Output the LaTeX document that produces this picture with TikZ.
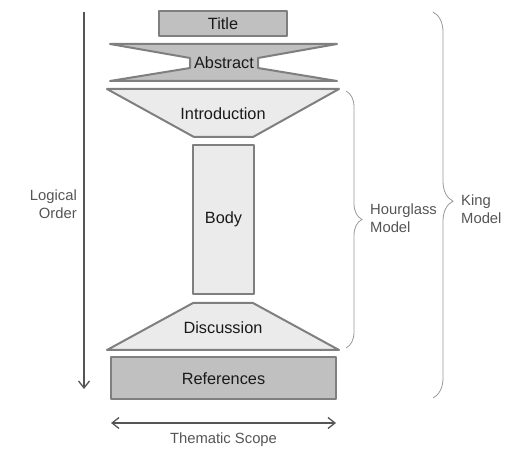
\documentclass[tikz,border=0pt]{standalone}
\usepackage{fontspec}
\setmainfont{Liberation Sans}
\usetikzlibrary{decorations.pathreplacing,arrows.meta}
\definecolor{edgegray}{HTML}{7F7F7F}
\definecolor{darkfill}{HTML}{C0C0C0}
\definecolor{lightfill}{HTML}{EBEBEB}
\definecolor{labelgray}{HTML}{555555}
\definecolor{textdark}{HTML}{1A1A1A}
\begin{document}
\begin{tikzpicture}[x=1pt,y=-1pt,
  part/.style={draw=edgegray,line width=2pt,line join=round},
  darkpart/.style={part,fill=darkfill},
  lightpart/.style={part,fill=lightfill},
  boxtext/.style={font=\fontsize{16.3}{18}\selectfont,text=textdark,inner sep=0pt},
  sidetext/.style={font=\fontsize{14.8}{18}\selectfont,text=labelgray,inner sep=0pt,align=left},
  arrowline/.style={draw=labelgray,line width=1.3pt},
  bracestyle/.style={draw=edgegray!80,line width=0.8pt,decorate}]
\useasboundingbox (0,0) rectangle (512,457);
% Title
\draw[darkpart] (159,11) rectangle (287,36);
\node[boxtext] (title) at (223,23.5) {Title};
% Abstract
\draw[darkpart] (110,44) -- (337,44) -- (258,58) -- (258,68) -- (337,81) -- (110,81) -- (190,68) -- (190,58) -- cycle;
\node[boxtext] (abstract) at (224,63) {Abstract};
% Introduction
\draw[lightpart] (107,89) -- (339,89) -- (253,137) -- (194,137) -- cycle;
\node[boxtext] (intro) at (223,114) {Introduction};
% Body
\draw[lightpart] (193,145) rectangle (254,294);
\node[boxtext] (body) at (223.5,219) {Body};
% Discussion
\draw[lightpart] (193,303) -- (253,303) -- (339,350) -- (107,350) -- cycle;
\node[boxtext] (disc) at (223,328) {Discussion};
% References
\draw[darkpart] (111,357) rectangle (336,399);
\node[boxtext] (refs) at (223.5,378.5) {References};
% Logical order arrow
\coordinate (lotop) at (84,12);
\coordinate (lobot) at (84,389);
\draw[arrowline,-{Straight Barb[length=7pt,width=11pt,line width=1.3pt]}] (lotop) -- (lobot);
\node[sidetext,anchor=east,align=right] (logical) at (77,204) {Logical\\Order};
% Thematic scope arrow
\coordinate (tsl) at (111,423);
\coordinate (tsr) at (336,423);
\draw[arrowline,{Straight Barb[length=7pt,width=11pt,line width=1.3pt]}-{Straight Barb[length=7pt,width=11pt,line width=1.3pt]}] (tsl) -- (tsr);
\node[sidetext] (thematic) at (223.5,440) {Thematic Scope};
% Hourglass brace
\coordinate (hgtop) at (346,91);
\coordinate (hgbot) at (346,348);
\draw[bracestyle,decoration={brace,amplitude=16pt,aspect=0.5}] (hgtop) -- (hgbot);
\node[sidetext,anchor=west] (hourglass) at (370,218) {Hourglass\\Model};
% King brace
\coordinate (kingtop) at (433,12);
\coordinate (kingbot) at (433,398);
\draw[bracestyle,decoration={brace,amplitude=20pt,aspect=0.49}] (kingtop) -- (kingbot);
\node[sidetext,anchor=west] (king) at (461,209) {King\\Model};
\end{tikzpicture}
\end{document}
